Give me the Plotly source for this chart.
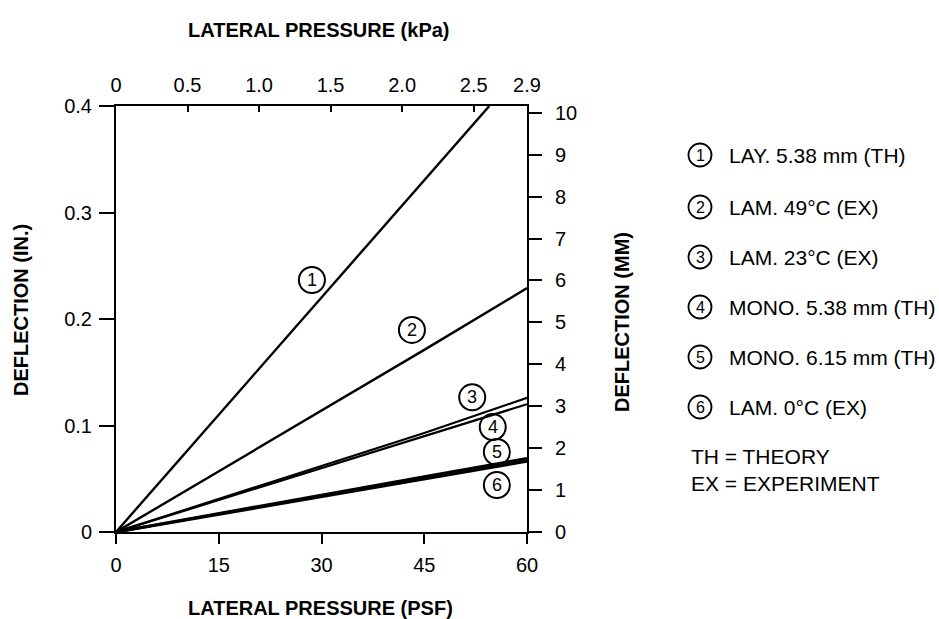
import plotly.graph_objects as go

# ---------------- data ----------------
psf = [0, 15, 30, 45, 60]                      # lateral pressure (psf)
psf_lay = [0, 15, 30, 45, 54.5]                 # curve 1 leaves the frame at 0.4 in
defl_lay_538 = [0, 0.110, 0.220, 0.330, 0.400]  # 1 LAY. 5.38 mm (TH)
defl_lam_49 = [0, 0.057, 0.114, 0.171, 0.229]   # 2 LAM. 49°C (EX)
defl_lam_23 = [0, 0.031, 0.0615, 0.093, 0.126]  # 3 LAM. 23°C (EX)
defl_mono_538 = [0, 0.030, 0.0600, 0.090, 0.120]  # 4 MONO. 5.38 mm (TH)
defl_mono_615 = [0, 0.0175, 0.0350, 0.0520, 0.0690]  # 5 MONO. 6.15 mm (TH)
defl_lam_0 = [0, 0.0165, 0.0335, 0.0500, 0.0665]     # 6 LAM. 0°C (EX)

series_x = [psf_lay, psf, psf, psf, psf, psf]
series_y = [defl_lay_538, defl_lam_49, defl_lam_23, defl_mono_538, defl_mono_615, defl_lam_0]
series_width = [2.4, 2.4, 2.2, 2.2, 3.0, 3.0]
series_num = ["1", "2", "3", "4", "5", "6"]
series_names = ["LAY. 5.38 mm (TH)", "LAM. 49°C (EX)", "LAM. 23°C (EX)",
                "MONO. 5.38 mm (TH)", "MONO. 6.15 mm (TH)", "LAM. 0°C (EX)"]
# where each circled number sits on the chart (psf, in.)
label_x = [28.6, 43.2, 52.0, 55.0, 55.6, 55.6]
label_y = [0.2366, 0.1897, 0.1265, 0.0985, 0.0751, 0.0441]

psf_ticks = [0, 15, 30, 45, 60]
in_ticks = [0, 0.1, 0.2, 0.3, 0.4]
in_ticktext = ["0", "0.1", "0.2", "0.3", "0.4"]
kpa_ticks = [0, 0.5, 1.0, 1.5, 2.0, 2.5, 2.873]
kpa_ticktext = ["0", "0.5", "1.0", "1.5", "2.0", "2.5", "2.9"]
mm_ticks = list(range(0, 11))

PSF_TO_KPA = 0.04788
IN_TO_MM = 25.4
X_MAX = 60
Y_MAX = 0.4

# ---------------- geometry ----------------
W, H = 939, 619
L, R, T, B = 116, 527, 106, 532
PW, PH = R - L, B - T


def px(xp):
    return (xp - L) / PW


def py(yp):
    return (B - yp) / PH


FONT = "Liberation Sans, Arial, Helvetica, sans-serif"
BLACK = "#000000"

fig = go.Figure()
for xs, ys, n, w in zip(series_x, series_y, series_num, series_width):
    fig.add_trace(go.Scatter(x=xs, y=ys, mode="lines", name=n,
                             line=dict(color=BLACK, width=w),
                             hoverinfo="skip", showlegend=False))

# helper trace so the secondary (kPa / mm) axes are drawn
fig.add_trace(go.Scatter(x=[0, X_MAX * PSF_TO_KPA], y=[0, Y_MAX * IN_TO_MM],
                         xaxis="x2", yaxis="y2", mode="lines",
                         line=dict(color="rgba(0,0,0,0)", width=0),
                         hoverinfo="skip", showlegend=False))

shapes = []
annotations = []

# circled labels on the curves
for n, lx, ly in zip(series_num, label_x, label_y):
    shapes.append(dict(type="circle", xref="x", yref="y",
                       xsizemode="pixel", ysizemode="pixel",
                       xanchor=lx, yanchor=ly,
                       x0=-13, x1=13, y0=-13, y1=13,
                       line=dict(color=BLACK, width=2)))
    annotations.append(dict(x=lx, y=ly, xref="x", yref="y", text=n,
                            showarrow=False, font=dict(family=FONT, size=18, color=BLACK),
                            xanchor="center", yanchor="middle"))

# legend at the right
row_y = [155, 207, 257, 307, 357, 407]
for n, name, ry in zip(series_num, series_names, row_y):
    shapes.append(dict(type="circle", xref="paper", yref="paper",
                       xsizemode="pixel", ysizemode="pixel",
                       xanchor=px(700), yanchor=py(ry),
                       x0=-11.5, x1=11.5, y0=-11.5, y1=11.5,
                       line=dict(color=BLACK, width=1.8)))
    annotations.append(dict(x=px(700), y=py(ry), xref="paper", yref="paper", text=n,
                            showarrow=False, font=dict(family=FONT, size=16, color=BLACK),
                            xanchor="center", yanchor="middle"))
    annotations.append(dict(x=px(727), y=py(ry), xref="paper", yref="paper", text=name,
                            showarrow=False, font=dict(family=FONT, size=21, color=BLACK),
                            xanchor="left", yanchor="middle"))
annotations.append(dict(x=px(689), y=py(470), xref="paper", yref="paper",
                        text="TH = THEORY<br>EX = EXPERIMENT", align="left",
                        showarrow=False, font=dict(family=FONT, size=21, color=BLACK),
                        xanchor="left", yanchor="middle"))

# axis titles
title_font = dict(family=FONT, size=20, color=BLACK, weight="bold")
annotations += [
    dict(x=px(319), y=py(30), xref="paper", yref="paper", text="<b>LATERAL PRESSURE (kPa)</b>",
         showarrow=False, font=title_font, xanchor="center", yanchor="middle"),
    dict(x=px(320), y=py(608), xref="paper", yref="paper", text="<b>LATERAL PRESSURE (PSF)</b>",
         showarrow=False, font=title_font, xanchor="center", yanchor="middle"),
    dict(x=px(21), y=py(310), xref="paper", yref="paper", text="<b>DEFLECTION (IN.)</b>",
         showarrow=False, font=title_font, textangle=-90, xanchor="center", yanchor="middle"),
    dict(x=px(622), y=py(322), xref="paper", yref="paper", text="<b>DEFLECTION (MM)</b>",
         showarrow=False, font=title_font, textangle=-90, xanchor="center", yanchor="middle"),
]

tick_font = dict(family=FONT, size=20, color=BLACK)
common = dict(showgrid=False, zeroline=False, showline=True, linecolor=BLACK, linewidth=2,
              tickcolor=BLACK, tickwidth=2, tickfont=tick_font, fixedrange=True)

fig.update_layout(
    width=W, height=H,
    margin=dict(l=L, r=W - R, t=T, b=H - B, pad=0),
    paper_bgcolor="white", plot_bgcolor="white",
    showlegend=False,
    font=dict(family=FONT, color=BLACK),
    xaxis=dict(range=[0, X_MAX], tickmode="array", tickvals=psf_ticks,
               ticks="outside", ticklen=10, ticklabelstandoff=4, **common),
    yaxis=dict(range=[0, Y_MAX], tickmode="array", tickvals=in_ticks, ticktext=in_ticktext,
               ticks="outside", ticklen=15, ticklabelstandoff=3, **common),
    xaxis2=dict(range=[0, X_MAX * PSF_TO_KPA], overlaying="x", side="top", anchor="y",
                tickmode="array", tickvals=kpa_ticks, ticktext=kpa_ticktext,
                ticks="inside", ticklen=6, ticklabelstandoff=4, **common),
    yaxis2=dict(range=[0, Y_MAX * IN_TO_MM], overlaying="y", side="right", anchor="x",
                tickmode="array", tickvals=mm_ticks,
                ticks="outside", ticklen=13, ticklabelstandoff=9, **common),
    shapes=shapes,
    annotations=annotations,
)

fig.write_html("out.html")
